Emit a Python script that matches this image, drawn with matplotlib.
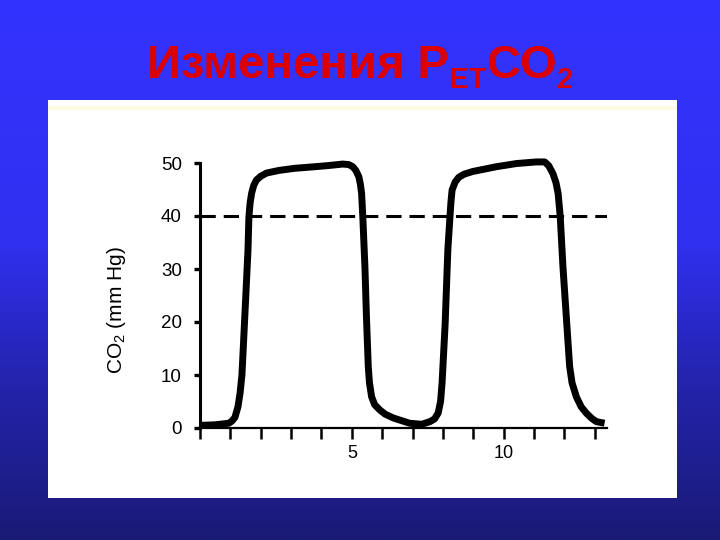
import numpy as np
import matplotlib
matplotlib.use('Agg')
import matplotlib.pyplot as plt
from matplotlib.colors import LinearSegmentedColormap
from matplotlib.patches import Rectangle

# capnogram trace (time in s, CO2 in mm Hg)
time = [0.0, 0.5, 0.95, 1.05, 1.15, 1.25, 1.32, 1.38, 1.41, 1.50, 1.58, 1.61,
        1.65, 1.70, 1.77, 1.86, 2.0, 2.19, 2.6, 3.12, 3.78, 4.2, 4.7, 4.9, 5.03,
        5.13, 5.23, 5.28, 5.32, 5.36, 5.43, 5.48, 5.54, 5.58, 5.65, 5.75, 5.92,
        6.1, 6.36, 6.9, 7.3, 7.57, 7.72, 7.84, 7.92, 7.97, 8.07, 8.16, 8.23,
        8.26, 8.30, 8.4, 8.52, 8.7, 8.98, 9.76, 10.42, 11.07, 11.35, 11.48,
        11.62, 11.72, 11.79, 11.86, 11.95, 12.06, 12.17, 12.25, 12.39, 12.55,
        12.72, 12.9, 13.05, 13.32]
co2 = [0.5, 0.6, 0.9, 1.3, 2.0, 4.0, 6.6, 10.0, 13.4, 24.0, 33.6, 39.8,
       42.5, 44.3, 45.8, 46.8, 47.5, 48.1, 48.6, 49.0, 49.3, 49.5, 49.8, 49.7, 49.3,
       48.6, 47.4, 46.0, 44.3, 39.9, 30.4, 21.0, 11.6, 8.5, 5.9, 4.4, 3.4,
       2.6, 1.9, 0.9, 0.7, 1.2, 1.7, 2.8, 5.0, 8.5, 19.5, 33.6, 39.9,
       42.5, 44.9, 46.4, 47.3, 47.9, 48.4, 49.3, 49.9, 50.2, 50.2, 49.5,
       48.0, 46.3, 44.3, 39.9, 30.4, 21.0, 11.6, 8.5, 5.9, 4.0,
       2.8, 1.8, 1.2, 0.9]
baseline = 40
x_ticks = list(range(14))
x_labels = ['5' if t == 5 else '10' if t == 10 else '' for t in x_ticks]
y_ticks = [0, 10, 20, 30, 40, 50]

W, H = 720, 540
fig = plt.figure(figsize=(7.2, 5.4), dpi=100)

# blue slide background with vertical gradient
bg = fig.add_axes([0, 0, 1, 1])
cmap = LinearSegmentedColormap.from_list('slide', [
    (0.0, (51/255, 51/255, 1.0)),
    (0.45, (48/255, 48/255, 240/255)),
    (0.7, (36/255, 36/255, 175/255)),
    (1.0, (26/255, 26/255, 118/255))])
bg.imshow(np.linspace(0, 1, 256).reshape(-1, 1), cmap=cmap, aspect='auto',
          extent=[0, 1, 0, 1])
bg.set_xlim(0, 1)
bg.set_ylim(0, 1)
bg.axis('off')
bg.add_patch(Rectangle((48/W, 42/H), 629/W, 398/H, facecolor='white',
                       edgecolor='none'))
bg.add_patch(Rectangle((48/W, 430/H), 629/W, 4/H, facecolor='#fffbe3',
                       edgecolor='none'))

# title built from pieces so the subscripts sit low like the slide
renderer = fig.canvas.get_renderer()
pieces = [('Изменения P', 34, 0), ('ET', 21, -10), ('CO', 34, 0), ('2', 21, -10)]
texts = []
for s, size, dy in pieces:
    t = fig.text(0, 0, s, fontsize=size, fontweight='bold', color='#dd0000',
                 family='Liberation Sans', ha='left', va='baseline')
    texts.append((t, dy))
widths = [t.get_window_extent(renderer).width for t, _ in texts]
x = 360 - sum(widths) / 2
for (t, dy), w in zip(texts, widths):
    t.set_position((x / W, (H - 78 + dy) / H))
    x += w

ax = fig.add_axes([200/W, 1 - 428/H, 407/W, 265/H])
ax.set_facecolor('none')
ax.plot(time, co2, color='black', linewidth=5, solid_joinstyle='round',
        solid_capstyle='butt', clip_on=False, zorder=3)
ax.axhline(baseline, color='black', linewidth=2.2, linestyle=(0, (5, 2.6)),
           zorder=2)

ax.set_xlim(0, 13.4)
ax.set_ylim(0, 50)
for s in ['top', 'right']:
    ax.spines[s].set_visible(False)
ax.spines['left'].set_linewidth(2.2)
ax.spines['bottom'].set_linewidth(1.6)

ax.set_xticks(x_ticks)
ax.set_xticklabels(x_labels, family='Liberation Sans', fontsize=13)
ax.set_yticks(y_ticks)
ax.set_yticklabels([str(v) for v in y_ticks], family='Liberation Sans',
                   fontsize=13.5)
ax.tick_params(axis='x', direction='out', length=8, width=1.8, pad=4)
ax.tick_params(axis='y', direction='out', length=4, width=2.4, pad=9)

fig.text(117/W, 1 - 310/H, r'CO$\mathregular{_2}$ (mm Hg)', rotation=90,
         ha='center', va='center', fontsize=15, family='Liberation Sans')

fig.savefig('out.png', dpi=100)
